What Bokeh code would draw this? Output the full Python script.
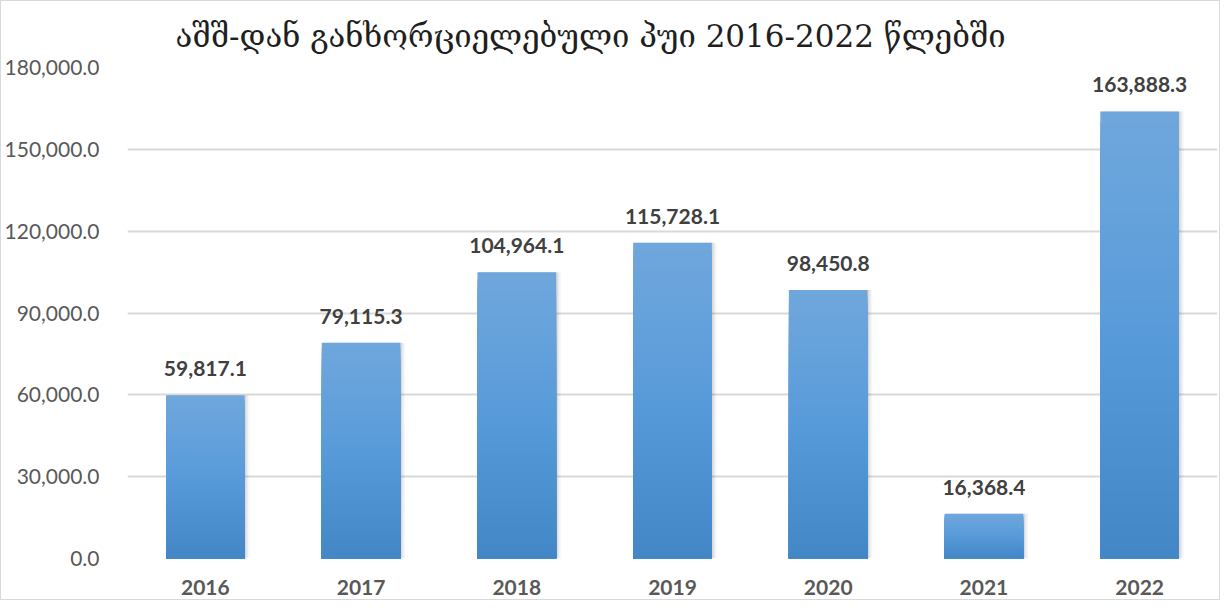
import numpy as np
from bokeh.plotting import figure
from bokeh.models import ColumnDataSource, NumeralTickFormatter, Title, Dodge
from bokeh.core.properties import value
from bokeh.embed import file_html
from bokeh.resources import INLINE

# ---- data ----
years = ["2016", "2017", "2018", "2019", "2020", "2021", "2022"]
values = [59817.1, 79115.3, 104964.1, 115728.1, 98450.8, 16368.4, 163888.3]
labels = ["59,817.1", "79,115.3", "104,964.1", "115,728.1", "98,450.8", "16,368.4", "163,888.3"]
title_text = "აშშ-დან განხორციელებული პუი 2016-2022 წლებში"

p = figure(x_range=years, y_range=(0, 180000), width=1220, height=600,
           output_backend="svg", toolbar_location=None,
           min_border_left=124, min_border_right=4, min_border_top=66, min_border_bottom=43)
p.styles = {"border": "1px solid #d9d9d9", "box-sizing": "border-box"}
p.outline_line_color = None
p.background_fill_color = "white"

# soft shadow
sh = ColumnDataSource(dict(x=years, top=values))
for i, a in enumerate([0.07, 0.05, 0.03]):
    off = (i + 1) * 1.3 / 156.0
    p.vbar(x={"field": "x", "transform": Dodge(value=off, range=p.x_range)},
           top="top", bottom=-(i + 1) * 450, width=0.505 + 0.004 * (i + 1), source=sh,
           fill_color="black", fill_alpha=a, line_color=None)

# gradient bars (nested, drawn tallest first so no seams)
N = 40
c_top = np.array([112, 167, 220])
c_mid = np.array([88, 155, 218])
c_bot = np.array([66, 134, 198])
xs, tops, cols = [], [], []
for k in range(N - 1, -1, -1):
    t = (k + 0.5) / N
    if t < 0.5:
        c = c_bot + (c_mid - c_bot) * (t / 0.5)
    else:
        c = c_mid + (c_top - c_mid) * ((t - 0.5) / 0.5)
    col = "#%02x%02x%02x" % tuple(int(round(q)) for q in c)
    for y, v in zip(years, values):
        xs.append(y)
        tops.append(v * (k + 1) / N)
        cols.append(col)
gs = ColumnDataSource(dict(x=xs, top=tops, color=cols))
p.vbar(x="x", top="top", bottom=0, width=0.505, source=gs,
       fill_color="color", line_color=None)

# value labels
ls = ColumnDataSource(dict(x=years, y=values, t=labels))
p.text(x="x", y="y", text="t", source=ls, text_align="center",
       text_baseline="bottom", y_offset=-19, text_font=value("Lato"),
       text_font_style="bold", text_font_size="21px", text_color="#404040")

# axes
p.yaxis.ticker = [0, 30000, 60000, 90000, 120000, 150000, 180000]
p.yaxis.formatter = NumeralTickFormatter(format="0,0.0")
p.yaxis.axis_line_color = None
p.yaxis.major_tick_line_color = None
p.yaxis.minor_tick_line_color = None
p.yaxis.major_label_text_font = "Lato"
p.yaxis.major_label_text_font_size = "21px"
p.yaxis.major_label_text_color = "#595959"
p.yaxis.major_label_standoff = 22

p.xaxis.axis_line_color = None
p.xaxis.major_tick_line_color = None
p.xaxis.major_label_text_font = "Lato"
p.xaxis.major_label_text_font_style = "bold"
p.xaxis.major_label_text_font_size = "21px"
p.xaxis.major_label_text_color = "#595959"
p.xaxis.major_label_standoff = 15

p.xgrid.grid_line_color = None
p.ygrid.grid_line_color = "#d9d9d9"
p.ygrid.grid_line_width = 2

p.title = Title(text=title_text, align="left", offset=48, text_font="DejaVu Serif",
                text_font_size="31px", text_font_style="normal", text_color="#1f1f1f",
                standoff=28)

open("out.html", "w").write(file_html(p, INLINE))
